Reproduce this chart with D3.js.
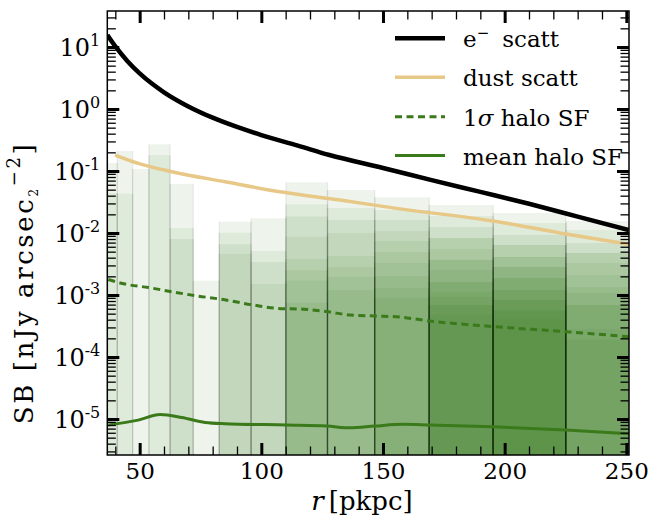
<!DOCTYPE html>
<html><head><meta charset="utf-8">
<script src="https://cdn.jsdelivr.net/npm/d3@7"></script>
<style>
html,body{margin:0;padding:0;background:#fff;}
svg{display:block;}
text{font-family:"DejaVu Serif",serif;fill:#000;}
</style></head><body>
<svg id="chart" width="652" height="521"></svg>
<script>
// ---- data ----
const binEdges = [35.4, 40.8, 47.1, 53.8, 62.5, 72.0, 82.7, 95.8, 110.1, 127.2, 146.6, 169.0, 195.3, 225.2, 259.7];
const layerTops = [
  [0.135, 0.044],
  [0.21, 0.043],
  [0.108],
  [0.27, 0.18],
  [0.062, 0.012, 0.008],
  [0.0017],
  [0.0152, 0.0101, 0.0066, 0.0046],
  [0.0173, 0.0051, 0.0034, 0.0015],
  [0.0658, 0.029, 0.0185, 0.0087, 0.0038, 0.0025, 0.0017, 0.00075],
  [0.0494, 0.0253, 0.0162, 0.0100, 0.00426, 0.00283, 0.00195, 0.0012],
  [0.0377, 0.0235, 0.0162, 0.0108, 0.00743, 0.00494, 0.00328, 0.00202, 0.0013, 0.0009],
  [0.0283, 0.0188, 0.0125, 0.0083, 0.0083, 0.0055, 0.00367, 0.0037, 0.00253, 0.00162, 0.0016, 0.00112, 0.00093, 0.00069, 0.00069, 0.00048],
  [0.021, 0.0145, 0.0093, 0.0064, 0.0064, 0.0041, 0.0041, 0.00283, 0.00283, 0.00188, 0.00188, 0.0012, 0.0012, 0.00083, 0.00083, 0.00057, 0.00057, 0.0004],
  [0.0156, 0.0112, 0.0069, 0.00475, 0.00475, 0.00328, 0.0021, 0.00135, 0.00108, 0.00069, 0.00069, 0.00028, 0.00019]
];
const eScattR  = [36.7, 40, 45, 50, 55, 60, 70, 80, 90, 100, 115, 128, 150, 170, 190, 210, 230, 251];
const eScattSB = [15.6, 10.2, 5.9, 3.76, 2.57, 1.86, 1.10, 0.724, 0.513, 0.380, 0.257, 0.181, 0.112, 0.0712, 0.0460, 0.0296, 0.0184, 0.0112];
const dustR    = [39.9, 49.4, 63.2, 85.1, 107.7, 132.3, 157.0, 195.3, 225.1, 251.1];
const dustSB   = [0.181, 0.133, 0.0975, 0.0671, 0.0463, 0.034, 0.0245, 0.0156, 0.00964, 0.00658];
const sigmaR   = [37.1, 44.0, 53.6, 63.2, 74.1, 83.0, 96.7, 106.3, 117.3, 126.9, 136.5, 146.7, 157.0, 169.3, 195.3, 225.2, 251.1];
const sigmaSB  = [1.78e-3, 1.50e-3, 1.32e-3, 1.13e-3, 9.6e-4, 8.6e-4, 6.9e-4, 6.1e-4, 5.9e-4, 5.4e-4, 4.75e-4, 4.6e-4, 4.4e-4, 3.8e-4, 3.1e-4, 2.56e-4, 2.12e-4];
const meanR    = [37.1, 49.4, 58.4, 67.3, 76.9, 85.1, 110.4, 126.9, 136.5, 146.7, 158.2, 169.3, 195.3, 225.2, 251.1];
const meanSB   = [8.0e-6, 9.6e-6, 1.18e-5, 1.06e-5, 8.8e-6, 8.4e-6, 8.0e-6, 7.7e-6, 7.2e-6, 7.7e-6, 8.2e-6, 8.0e-6, 7.5e-6, 6.65e-6, 5.8e-6];
const xMajorTicks = [50, 100, 150, 200, 250];
const yMajorExps = [-5, -4, -3, -2, -1, 0, 1];
const legendLabels = ["e\u207B scatt", "dust scatt", "1\u03C3 halo SF", "mean halo SF"];

// ---- layout ----
const M = {left: 107.3, right: 629, top: 11, bottom: 455};
const svg = d3.select("#chart");
const x = d3.scaleLinear().domain([36.7, 251.1]).range([M.left, M.right]);
const y = d3.scaleLog().domain([2.627e-6, 38.07]).range([M.bottom, M.top]);

svg.append("defs").append("clipPath").attr("id", "clip")
  .append("rect").attr("x", M.left).attr("y", M.top)
  .attr("width", M.right - M.left).attr("height", M.bottom - M.top);

const plot = svg.append("g").attr("clip-path", "url(#clip)");
const barColor = "#3b7a1e";
const gBars = plot.append("g");
binEdges.slice(0, -1).forEach((e0, i) => {
  const e1 = binEdges[i + 1];
  layerTops[i].forEach(t => {
    gBars.append("rect")
      .attr("x", x(e0)).attr("width", x(e1) - x(e0))
      .attr("y", y(t)).attr("height", M.bottom - y(t))
      .attr("fill", barColor).attr("fill-opacity", 0.088);
    [e0, e1].forEach(e => {
      gBars.append("line")
        .attr("x1", x(e)).attr("x2", x(e)).attr("y1", y(t)).attr("y2", M.bottom)
        .attr("stroke", "#000").attr("stroke-opacity", 0.065).attr("stroke-width", 1.3);
    });
  });
});

const lineGen = d3.line().x(d => x(d[0])).y(d => y(d[1])).curve(d3.curveMonotoneX);
const zip = (a, b) => a.map((v, i) => [v, b[i]]);
const styles = [
  {data: zip(eScattR, eScattSB), stroke: "#000000", w: 4.5, dash: null},
  {data: zip(dustR, dustSB), stroke: "#e8c887", w: 3.5, dash: null},
  {data: zip(sigmaR, sigmaSB), stroke: "#3a7a1a", w: 3, dash: "7,4.5"},
  {data: zip(meanR, meanSB), stroke: "#3a7a1a", w: 3, dash: null}
];
styles.forEach(s => {
  plot.append("path").attr("d", lineGen(s.data)).attr("fill", "none")
    .attr("stroke", s.stroke).attr("stroke-width", s.w)
    .attr("stroke-dasharray", s.dash);
});

// ---- axes ----
const xMinor = d3.range(40, 251, 10).filter(v => v % 50 !== 0);
const yMajor = yMajorExps.map(e => Math.pow(10, e));
const yMinor = [];
for (let e = -6; e <= 1; e++) for (let k = 2; k <= 9; k++) {
  const v = k * Math.pow(10, e);
  if (v > y.domain()[0] && v < y.domain()[1]) yMinor.push(v);
}
function tickAxis(axis, vals, len, w, tr) {
  const g = svg.append("g").attr("transform", tr)
    .call(axis.tickValues(vals).tickSizeInner(-len).tickSizeOuter(0).tickFormat(() => ""));
  g.select(".domain").remove();
  g.selectAll(".tick line").attr("stroke", "#000").attr("stroke-width", w);
}
tickAxis(d3.axisBottom(x), xMinor, 8.5, 1.3, `translate(0,${M.bottom})`);
tickAxis(d3.axisBottom(x), xMajorTicks, 12, 3, `translate(0,${M.bottom})`);
tickAxis(d3.axisTop(x), xMinor, 8.5, 1.3, `translate(0,${M.top})`);
tickAxis(d3.axisTop(x), xMajorTicks, 12, 3, `translate(0,${M.top})`);
tickAxis(d3.axisLeft(y), yMinor, 8.5, 1.3, `translate(${M.left},0)`);
tickAxis(d3.axisLeft(y), yMajor, 12, 3, `translate(${M.left},0)`);
tickAxis(d3.axisRight(y), yMinor, 8.5, 1.3, `translate(${M.right},0)`);
tickAxis(d3.axisRight(y), yMajor, 12, 3, `translate(${M.right},0)`);

// labels
const gx = svg.append("g").attr("transform", `translate(0,${M.bottom})`)
  .call(d3.axisBottom(x).tickValues(xMajorTicks).tickSize(0).tickPadding(8).tickFormat(d3.format("d")));
gx.select(".domain").remove();
gx.selectAll("text").attr("font-size", 23).attr("font-family", "DejaVu Serif");

const gy = svg.append("g").attr("transform", `translate(${M.left},0)`)
  .call(d3.axisLeft(y).tickValues(yMajor).tickSize(0).tickPadding(7).tickFormat(() => ""));
gy.select(".domain").remove();
gy.selectAll("text").attr("font-size", 24).attr("font-family", "DejaVu Serif").attr("dy", "0.36em")
  .each(function(d) {
    const t = d3.select(this);
    const e = Math.round(Math.log10(d));
    t.append("tspan").text("10");
    t.append("tspan").attr("dy", -10).attr("font-size", 16).text(String(e));
  });

svg.append("rect").attr("x", M.left).attr("y", M.top)
  .attr("width", M.right - M.left).attr("height", M.bottom - M.top)
  .attr("fill", "none").attr("stroke", "#000").attr("stroke-width", 1.5);

// axis titles
const xt = svg.append("text").attr("x", 362).attr("y", 510).attr("text-anchor", "middle").attr("font-size", 26);
xt.append("tspan").attr("font-style", "italic").text("r");
xt.append("tspan").attr("dx", 5).text("[pkpc]");

const yt = svg.append("text").attr("transform", "translate(33,283) rotate(-90)")
  .attr("text-anchor", "middle").attr("font-size", 26).attr("letter-spacing", 2.6);
yt.append("tspan").text("SB [nJy arcsec");
yt.append("tspan").attr("font-size", 12).attr("dy", 5).text("2");
yt.append("tspan").attr("font-size", 18).attr("dy", -18).text("\u22122");
yt.append("tspan").attr("dy", 13).text("]");

// legend
const legRows = [38.3, 77.3, 116.7, 155.5];
const lg = svg.append("g");
styles.forEach((s, i) => {
  lg.append("line").attr("x1", 395).attr("x2", 445).attr("y1", legRows[i]).attr("y2", legRows[i])
    .attr("stroke", s.stroke).attr("stroke-width", s.w).attr("stroke-dasharray", s.dash);
});
const t0 = lg.append("text").attr("x", 463).attr("y", legRows[0] + 9).attr("font-size", 23);
t0.append("tspan").text("e");
t0.append("tspan").attr("font-size", 15).attr("dy", -9).text("\u2212");
t0.append("tspan").attr("dy", 9).attr("dx", 13).text("scatt");
lg.append("text").attr("x", 463).attr("y", legRows[1] + 9).attr("font-size", 23).text(legendLabels[1]);
const t2 = lg.append("text").attr("x", 463).attr("y", legRows[2] + 9).attr("font-size", 23);
t2.append("tspan").text("1");
t2.append("tspan").attr("font-style", "italic").text("\u03C3");
t2.append("tspan").text(" halo SF");
lg.append("text").attr("x", 463).attr("y", legRows[3] + 9).attr("font-size", 23).text(legendLabels[3]);
</script>
</body></html>
